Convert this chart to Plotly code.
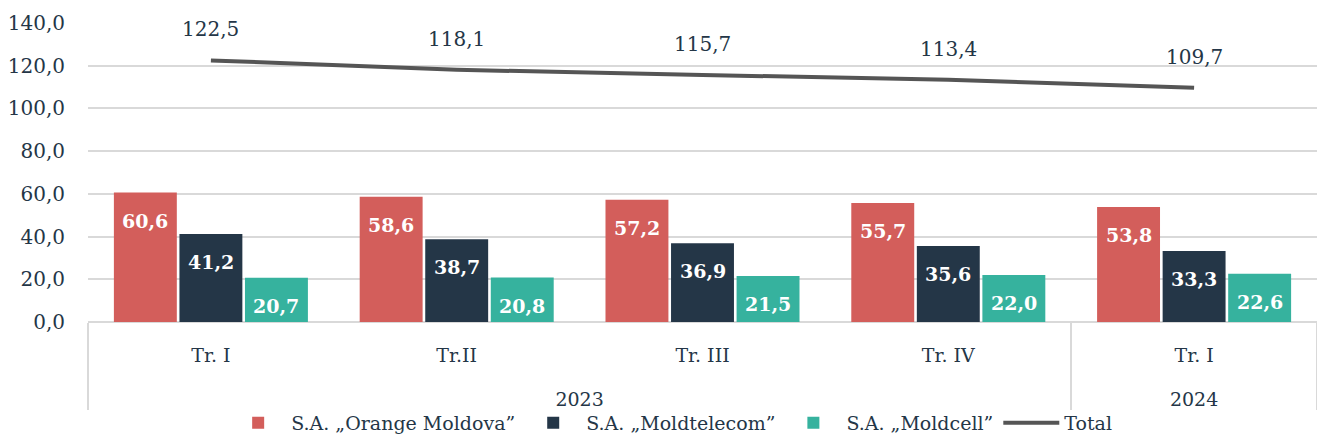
import plotly.graph_objects as go

years = ["2023", "2023", "2023", "2023", "2024"]
quarters = ["Tr. I", "Tr.II", "Tr. III", "Tr. IV", "Tr. I"]
orange = [60.6, 58.6, 57.2, 55.7, 53.8]
moldtelecom = [41.2, 38.7, 36.9, 35.6, 33.3]
moldcell = [20.7, 20.8, 21.5, 22.0, 22.6]
total = [122.5, 118.1, 115.7, 113.4, 109.7]

series = [
    ("S.A. „Orange Moldova”", orange, "#D35E5B"),
    ("S.A. „Moldtelecom”", moldtelecom, "#243647"),
    ("S.A. „Moldcell”", moldcell, "#36B29E"),
]

FONT = "DejaVu Serif"
TEXT = "#243647"
# year row is pushed one line lower, as in the reference
x = [["<br>" + y for y in years], quarters]

fig = go.Figure()
for name, vals, col in series:
    fig.add_trace(go.Bar(x=x, y=vals, name=name, marker_color=col,
                         marker_line_width=0, hoverinfo="skip"))
fig.add_trace(go.Scatter(x=x, y=total, name="Total", mode="lines",
                         line=dict(color="#555555", width=4)))

bargap, groupgap = 0.2, 0.04
slot = (1 - bargap) / len(series)
annotations = []
for k, (name, vals, col) in enumerate(series):
    off = (k - (len(series) - 1) / 2) * slot
    for i, v in enumerate(vals):
        annotations.append(dict(x=i + off, y=v, xref="x", yref="y",
                                text=f"<b>{v:.1f}".replace(".", ",") + "</b>",
                                showarrow=False, yshift=-28,
                                font=dict(family=FONT, size=19, color="white")))
for i, v in enumerate(total):
    annotations.append(dict(x=i, y=v, xref="x", yref="y",
                            text=f"{v:.1f}".replace(".", ","),
                            showarrow=False, yshift=31,
                            font=dict(family=FONT, size=20, color=TEXT)))

fig.update_layout(
    width=1317, height=442,
    margin=dict(l=88, r=0, t=23, b=120),
    paper_bgcolor="white", plot_bgcolor="white",
    separators=",.",
    barmode="group", bargap=bargap, bargroupgap=groupgap,
    font=dict(family=FONT, size=19, color=TEXT),
    showlegend=True,
    legend=dict(orientation="h", x=0.4745, xanchor="center", y=-0.401, yanchor="bottom",
                bgcolor="rgba(0,0,0,0)",
                font=dict(family=FONT, size=19, color=TEXT), itemwidth=56,
                traceorder="normal"),
    annotations=annotations,
)
fig.update_yaxes(range=[0, 140], dtick=20, tickformat=".1f", showgrid=True,
                 gridcolor="#D9D9D9", gridwidth=2, zeroline=True,
                 zerolinecolor="#D9D9D9", zerolinewidth=2, automargin=False,
                 ticks="", ticklabelstandoff=22, fixedrange=True,
                 tickfont=dict(family=FONT, size=20, color=TEXT))
fig.update_xaxes(type="multicategory", showgrid=False, showline=False,
                 showdividers=True, dividercolor="#D9D9D9", dividerwidth=2,
                 automargin=False, ticks="outside", tickson="labels", ticklen=11,
                 tickcolor="rgba(0,0,0,0)", ticklabelstandoff=5, fixedrange=True,
                 tickfont=dict(family=FONT, size=19, color=TEXT))

fig.write_html("out.html",
               config={"displayModeBar": False, "staticPlot": True},
               post_script=("for (const el of [document.documentElement, document.body]) {"
                            "el.style.margin='0'; el.style.padding='0';"
                            "el.style.height='442px'; el.style.overflow='hidden';}"))
